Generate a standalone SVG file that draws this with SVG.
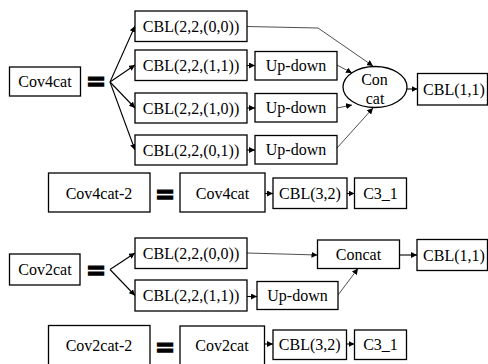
<svg xmlns="http://www.w3.org/2000/svg" width="488" height="364" viewBox="0 0 488 364">
<defs>
<marker id="ah" viewBox="0 0 10 10" refX="10" refY="5" markerWidth="6" markerHeight="6" markerUnits="userSpaceOnUse" orient="auto">
<path d="M0,0 L10,5 L0,10 z" fill="#000"/>
</marker>
<style>
.b{fill:#fff;stroke:#000;stroke-width:1.3}
.t{font-size:16px;fill:#000;text-anchor:middle}
.eq{font-weight:bold;font-size:24px;fill:#000;stroke:#000;stroke-width:1.3;text-anchor:middle}
.c{fill:none;stroke:#000;stroke-width:1.1;marker-end:url(#ah)}
.c2{fill:none;stroke:#222;stroke-width:0.8;marker-end:url(#ah)}
</style>
</defs>
<g id="connectors">
<path class="c" d="M110,82 L135,26"/>
<path class="c" d="M110,82 L135,65"/>
<path class="c" d="M110,82 L135,108"/>
<path class="c" d="M110,82 L135,150"/>
<path class="c" d="M247,65.5 L255,65.5"/>
<path class="c" d="M247,108 L255,108"/>
<path class="c" d="M247,150 L255,150"/>
<path class="c2" d="M247,26.5 L318,28 L373,66"/>
<path class="c2" d="M337,65 L352,73"/>
<path class="c2" d="M337,108 L352,105"/>
<path class="c2" d="M337,148 L373,108"/>
<path class="c" d="M407,89 L417.5,89"/>
<path class="c" d="M265,193.5 L273,193.5"/>
<path class="c" d="M347,193.5 L354.5,193.5"/>
<path class="c" d="M110,269.5 L135,253"/>
<path class="c" d="M110,269.5 L135,295.5"/>
<path class="c2" d="M247,253 L317.5,255"/>
<path class="c" d="M399.5,255 L417,255"/>
<path class="c" d="M247,296.5 L257,296.5"/>
<path class="c2" d="M338,295 L358,268.5"/>
<path class="c" d="M264.5,344 L273,344"/>
<path class="c" d="M346.5,344 L354.5,344"/>
</g>
<g font-family="'Liberation Serif', 'DejaVu Serif', serif">
<g id="cov4cat"><rect class="b" x="9.5" y="67" width="71" height="29"/><text class="t" x="45" y="87">Cov4cat</text></g>
<g id="eq1"><text class="eq" x="96" y="90" font-family="'DejaVu Sans', sans-serif">=</text></g>
<g id="cbl1"><rect class="b" x="135" y="11" width="112" height="30.5"/><text class="t" x="191" y="32">CBL(2,2,(0,0))</text></g>
<g id="cbl2"><rect class="b" x="135" y="50" width="112" height="30.5"/><text class="t" x="191" y="71">CBL(2,2,(1,1))</text></g>
<g id="cbl3"><rect class="b" x="135" y="93" width="112" height="30"/><text class="t" x="191" y="114">CBL(2,2,(1,0))</text></g>
<g id="cbl4"><rect class="b" x="135" y="135" width="112" height="30"/><text class="t" x="191" y="156">CBL(2,2,(0,1))</text></g>
<g id="ud1"><rect class="b" x="255" y="51.5" width="82" height="28.5"/><text class="t" x="296" y="71">Up-down</text></g>
<g id="ud2"><rect class="b" x="255" y="93.5" width="82" height="28.5"/><text class="t" x="296" y="113">Up-down</text></g>
<g id="ud3"><rect class="b" x="255" y="135.5" width="82" height="28.5"/><text class="t" x="296" y="155">Up-down</text></g>
<g id="concat1"><ellipse class="b" cx="375" cy="87" rx="32" ry="20.5"/><text class="t" x="374.5" y="85">Con</text><text class="t" x="375" y="104">cat</text></g>
<g id="cbl11a"><rect class="b" x="417.5" y="73.5" width="70" height="31.5"/><text class="t" x="454" y="95">CBL(1,1)</text></g>
<g id="cov4cat2"><rect class="b" x="48.5" y="173" width="101.5" height="39"/><text class="t" x="99" y="199">Cov4cat-2</text></g>
<g id="eq2"><text class="eq" x="165" y="202.5" font-family="'DejaVu Sans', sans-serif">=</text></g>
<g id="cov4catb"><rect class="b" x="180" y="173" width="85" height="39"/><text class="t" x="222.5" y="199">Cov4cat</text></g>
<g id="cbl32a"><rect class="b" x="273" y="178" width="74" height="30.5"/><text class="t" x="310" y="199">CBL(3,2)</text></g>
<g id="c31a"><rect class="b" x="354.5" y="178" width="52" height="30.5"/><text class="t" x="380.5" y="199">C3_1</text></g>
<g id="cov2cat"><rect class="b" x="9.5" y="254" width="70.5" height="31"/><text class="t" x="45" y="275">Cov2cat</text></g>
<g id="eq3"><text class="eq" x="96" y="279" font-family="'DejaVu Sans', sans-serif">=</text></g>
<g id="cbl5"><rect class="b" x="135" y="238" width="112" height="30.5"/><text class="t" x="191" y="259">CBL(2,2,(0,0))</text></g>
<g id="cbl6"><rect class="b" x="135" y="280" width="112" height="31"/><text class="t" x="191" y="301">CBL(2,2,(1,1))</text></g>
<g id="concat2"><rect class="b" x="317.5" y="240" width="82" height="28.5"/><text class="t" x="358.5" y="260">Concat</text></g>
<g id="cbl11b"><rect class="b" x="417" y="239.5" width="70.5" height="31"/><text class="t" x="454" y="261">CBL(1,1)</text></g>
<g id="ud4"><rect class="b" x="257" y="281.5" width="81" height="28"/><text class="t" x="297.5" y="301">Up-down</text></g>
<g id="cov2cat2"><rect class="b" x="48.5" y="325.5" width="101.5" height="42"/><text class="t" x="99" y="351">Cov2cat-2</text></g>
<g id="eq4"><text class="eq" x="165" y="355.5" font-family="'DejaVu Sans', sans-serif">=</text></g>
<g id="cov2catb"><rect class="b" x="180" y="326" width="84.5" height="42"/><text class="t" x="222" y="351">Cov2cat</text></g>
<g id="cbl32b"><rect class="b" x="273" y="330" width="73.5" height="29.5"/><text class="t" x="309.75" y="350">CBL(3,2)</text></g>
<g id="c31b"><rect class="b" x="354.5" y="330" width="52" height="29.5"/><text class="t" x="380.5" y="350">C3_1</text></g>
</g>
</svg>
